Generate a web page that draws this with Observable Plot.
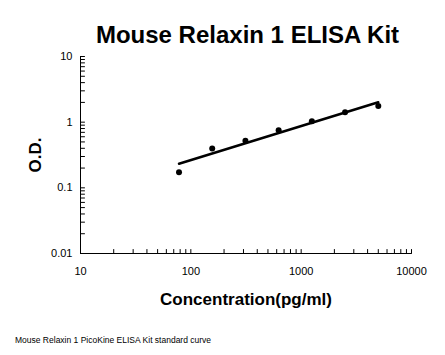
<!DOCTYPE html>
<html><head><meta charset="utf-8">
<script src="https://cdn.jsdelivr.net/npm/d3@7"></script>
<script src="https://cdn.jsdelivr.net/npm/@observablehq/plot@0.6"></script>
<style>
html,body{margin:0;padding:0;background:#fff;}
body{width:445px;height:355px;overflow:hidden;font-family:"Liberation Sans",Arial,sans-serif;color:#000;}
#title{box-sizing:border-box;height:48px;padding-top:23px;padding-left:50px;text-align:center;font-size:24px;line-height:24px;font-weight:bold;white-space:nowrap;}
#chart svg{display:block;}
#caption{margin-top:22px;padding-left:15px;font-size:8.5px;line-height:10px;white-space:nowrap;}
[aria-label="x-axis label"] text,[aria-label="y-axis label"] text{font-size:17px;font-weight:bold;}
</style>
</head><body>
<div id="title">Mouse Relaxin 1 ELISA Kit</div>
<div id="chart"></div>
<div id="caption">Mouse Relaxin 1 PicoKine ELISA Kit standard curve</div>
<script>
const concentrations = [78.125, 156.25, 312.5, 625, 1250, 2500, 5000];
const odValues = [0.173, 0.398, 0.521, 0.755, 1.03, 1.41, 1.77];
const fitConcentrations = [78.125, 5000];
const fitOD = [0.233, 2.01];
const xTickLabels = [10, 100, 1000, 10000];
const yTickLabels = [0.01, 0.1, 1, 10];
const xLabel = "Concentration(pg/ml)";
const yLabel = "O.D.";

const points = concentrations.map((c, i) => ({c, od: odValues[i]}));
const fit = fitConcentrations.map((c, i) => ({c, od: fitOD[i]}));
const minor = (majors) => majors.slice(0, -1).flatMap(d => [1,2,3,4,5,6,7,8,9].map(k => d * k)).concat(majors.slice(-1));
const xMinor = minor(xTickLabels);
const yMinor = minor(yTickLabels);
const tickShape = {draw(context, l) { context.moveTo(0, 0); context.lineTo(0, -l); }};

const chart = Plot.plot({
  width: 445,
  height: 265,
  marginLeft: 80,
  marginRight: 34,
  marginTop: 8,
  marginBottom: 60,
  style: {fontFamily: '"Liberation Sans", Arial, sans-serif', fontSize: "11px", color: "#000", background: "#fff"},
  x: {type: "log", domain: [10, 10000]},
  y: {type: "log", domain: [0.01, 10]},
  marks: [
    Plot.vector(xMinor, {x: d => d, frameAnchor: "bottom", anchor: "start", rotate: 0, length: 4, shape: tickShape, stroke: "#000", strokeWidth: 1}),
    Plot.vector(yMinor, {y: d => d, frameAnchor: "left", anchor: "start", rotate: 90, length: 4, shape: tickShape, stroke: "#000", strokeWidth: 1}),
    Plot.axisX({anchor: "bottom", ticks: xTickLabels, tickSize: 0, tickPadding: 14, tickFormat: d => String(d),
      label: xLabel, labelAnchor: "center", labelArrow: "none", labelOffset: 51}),
    Plot.axisY({anchor: "left", ticks: yTickLabels, tickSize: 0, tickPadding: 8, tickFormat: d => String(d),
      label: yLabel, labelAnchor: "center", labelArrow: "none", labelOffset: 52}),
    Plot.ruleX([xTickLabels[0]], {stroke: "#000"}),
    Plot.ruleY([yTickLabels[0]], {stroke: "#000"}),
    Plot.line(fit, {x: "c", y: "od", stroke: "#000", strokeWidth: 2.5}),
    Plot.dot(points, {x: "c", y: "od", r: 3, fill: "#000"})
  ]
});
document.getElementById("chart").appendChild(chart);
</script>
</body></html>
